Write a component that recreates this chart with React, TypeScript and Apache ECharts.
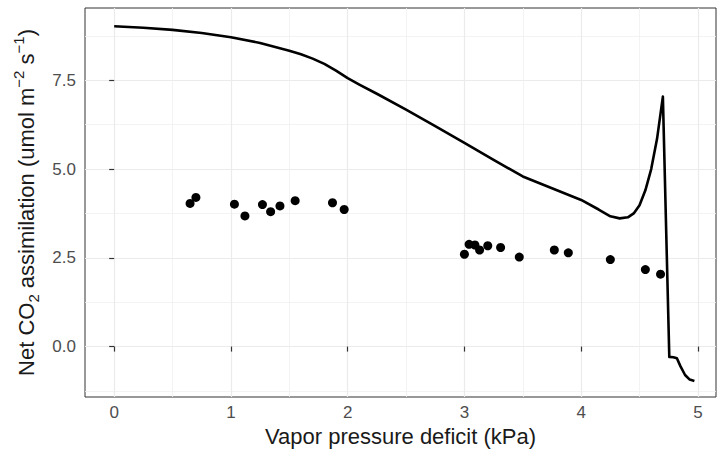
import React, { useEffect, useRef } from "react";
import * as echarts from "echarts";

const lineVpd = [0, 0.25, 0.5, 0.75, 1.0, 1.25, 1.5, 1.6, 1.7, 1.8, 1.9, 2.0, 2.1, 2.25, 2.5, 2.75, 3.0, 3.25, 3.5, 3.75, 4.0, 4.15, 4.25, 4.33, 4.4, 4.45, 4.5, 4.55, 4.6, 4.65, 4.7, 4.755, 4.79, 4.82, 4.85, 4.89, 4.93, 4.97];
const lineAnet = [9.02, 8.98, 8.92, 8.83, 8.71, 8.55, 8.33, 8.23, 8.11, 7.96, 7.77, 7.56, 7.38, 7.12, 6.67, 6.21, 5.74, 5.26, 4.79, 4.46, 4.13, 3.86, 3.67, 3.61, 3.64, 3.75, 3.98, 4.4, 5.0, 5.85, 7.04, -0.29, -0.3, -0.33, -0.55, -0.8, -0.93, -0.97];

const obsVpd = [0.65, 0.7, 1.03, 1.12, 1.27, 1.34, 1.42, 1.55, 1.87, 1.97, 3.0, 3.04, 3.09, 3.13, 3.2, 3.31, 3.47, 3.77, 3.89, 4.25, 4.55, 4.68];
const obsAnet = [4.03, 4.2, 4.01, 3.68, 4.0, 3.8, 3.96, 4.11, 4.05, 3.86, 2.6, 2.88, 2.86, 2.72, 2.84, 2.79, 2.52, 2.72, 2.64, 2.45, 2.17, 2.04];

const xMajor = [0, 1, 2, 3, 4, 5];
const xMinor = [0.5, 1.5, 2.5, 3.5, 4.5];
const yMajor = [0, 2.5, 5, 7.5];
const yMinor = [-1.25, 1.25, 3.75, 6.25, 8.75];

const FONT = "'Liberation Sans', Arial, sans-serif";

export default function App() {
  const ref = useRef<HTMLDivElement>(null);
  useEffect(() => {
    if (!ref.current) return;
    const chart = echarts.init(ref.current, null, { renderer: "svg" });
    const majorSplit = { show: true, lineStyle: { color: "#EBEBEB", width: 1.2 } };
    const minorSplit = { show: true, lineStyle: { color: "#F0F0F0", width: 0.8 } };
    const xMin = -0.25, xMax = 5.155, yMin = -1.42, yMax = 9.535;
    chart.setOption({
      animation: false,
      backgroundColor: "#ffffff",
      grid: { left: 85, top: 8, right: 6, bottom: 60, show: true, borderColor: "#333333", borderWidth: 1, backgroundColor: "transparent" },
      xAxis: [
        {
          type: "value", min: xMin, max: xMax,
          axisLine: { show: false },
          axisTick: { show: true, length: 5, inside: false, customValues: xMajor, lineStyle: { color: "#333333", width: 1.2 } },
          axisLabel: { customValues: xMajor, color: "#4D4D4D", fontSize: 17, fontFamily: FONT, margin: 7, formatter: (v: number) => String(v) },
          splitLine: majorSplit,
          name: "Vapor pressure deficit (kPa)", nameLocation: "middle", nameGap: 28,
          nameTextStyle: { color: "#1a1a1a", fontSize: 22, fontFamily: FONT },
        },
        {
          type: "value", min: xMin, max: xMax, position: "bottom",
          axisLine: { show: false }, axisLabel: { show: false },
          axisTick: { show: false, customValues: xMinor },
          splitLine: minorSplit,
        },
      ],
      yAxis: [
        {
          type: "value", min: yMin, max: yMax,
          axisLine: { show: false },
          axisTick: { show: true, length: 5, inside: false, customValues: yMajor, lineStyle: { color: "#333333", width: 1.2 } },
          axisLabel: { customValues: yMajor, color: "#4D4D4D", fontSize: 17, fontFamily: FONT, margin: 9, formatter: (v: number) => v.toFixed(1) },
          splitLine: majorSplit,
          name: "Net CO{sub|2} assimilation (umol m{sup|−2} s{sup|−1})",
          nameLocation: "middle", nameGap: 40, nameRotate: 90,
          nameTextStyle: {
            color: "#1a1a1a", fontSize: 22, fontFamily: FONT, lineHeight: 30,
            rich: {
              sub: { fontSize: 15, fontFamily: FONT, color: "#1a1a1a", lineHeight: 17, verticalAlign: "bottom" },
              sup: { fontSize: 15, fontFamily: FONT, color: "#1a1a1a", lineHeight: 17, verticalAlign: "top" },
            },
          },
        },
        {
          type: "value", min: yMin, max: yMax, position: "left",
          axisLine: { show: false }, axisLabel: { show: false },
          axisTick: { show: false, customValues: yMinor },
          splitLine: minorSplit,
        },
      ],
      series: [
        {
          type: "line", xAxisIndex: 0, yAxisIndex: 0,
          data: lineVpd.map((x, i) => [x, lineAnet[i]]),
          showSymbol: false, symbol: "none",
          lineStyle: { color: "#000000", width: 2.6, join: "round" },
          z: 3,
        },
        {
          type: "scatter", xAxisIndex: 0, yAxisIndex: 0,
          data: obsVpd.map((x, i) => [x, obsAnet[i]]),
          symbol: "circle", symbolSize: 9,
          itemStyle: { color: "#000000", opacity: 1 },
          z: 4,
        },
      ],
    });
    return () => chart.dispose();
  }, []);
  return <div ref={ref} style={{ width: 722, height: 457, position: "absolute", left: 0, top: 0 }} />;
}
